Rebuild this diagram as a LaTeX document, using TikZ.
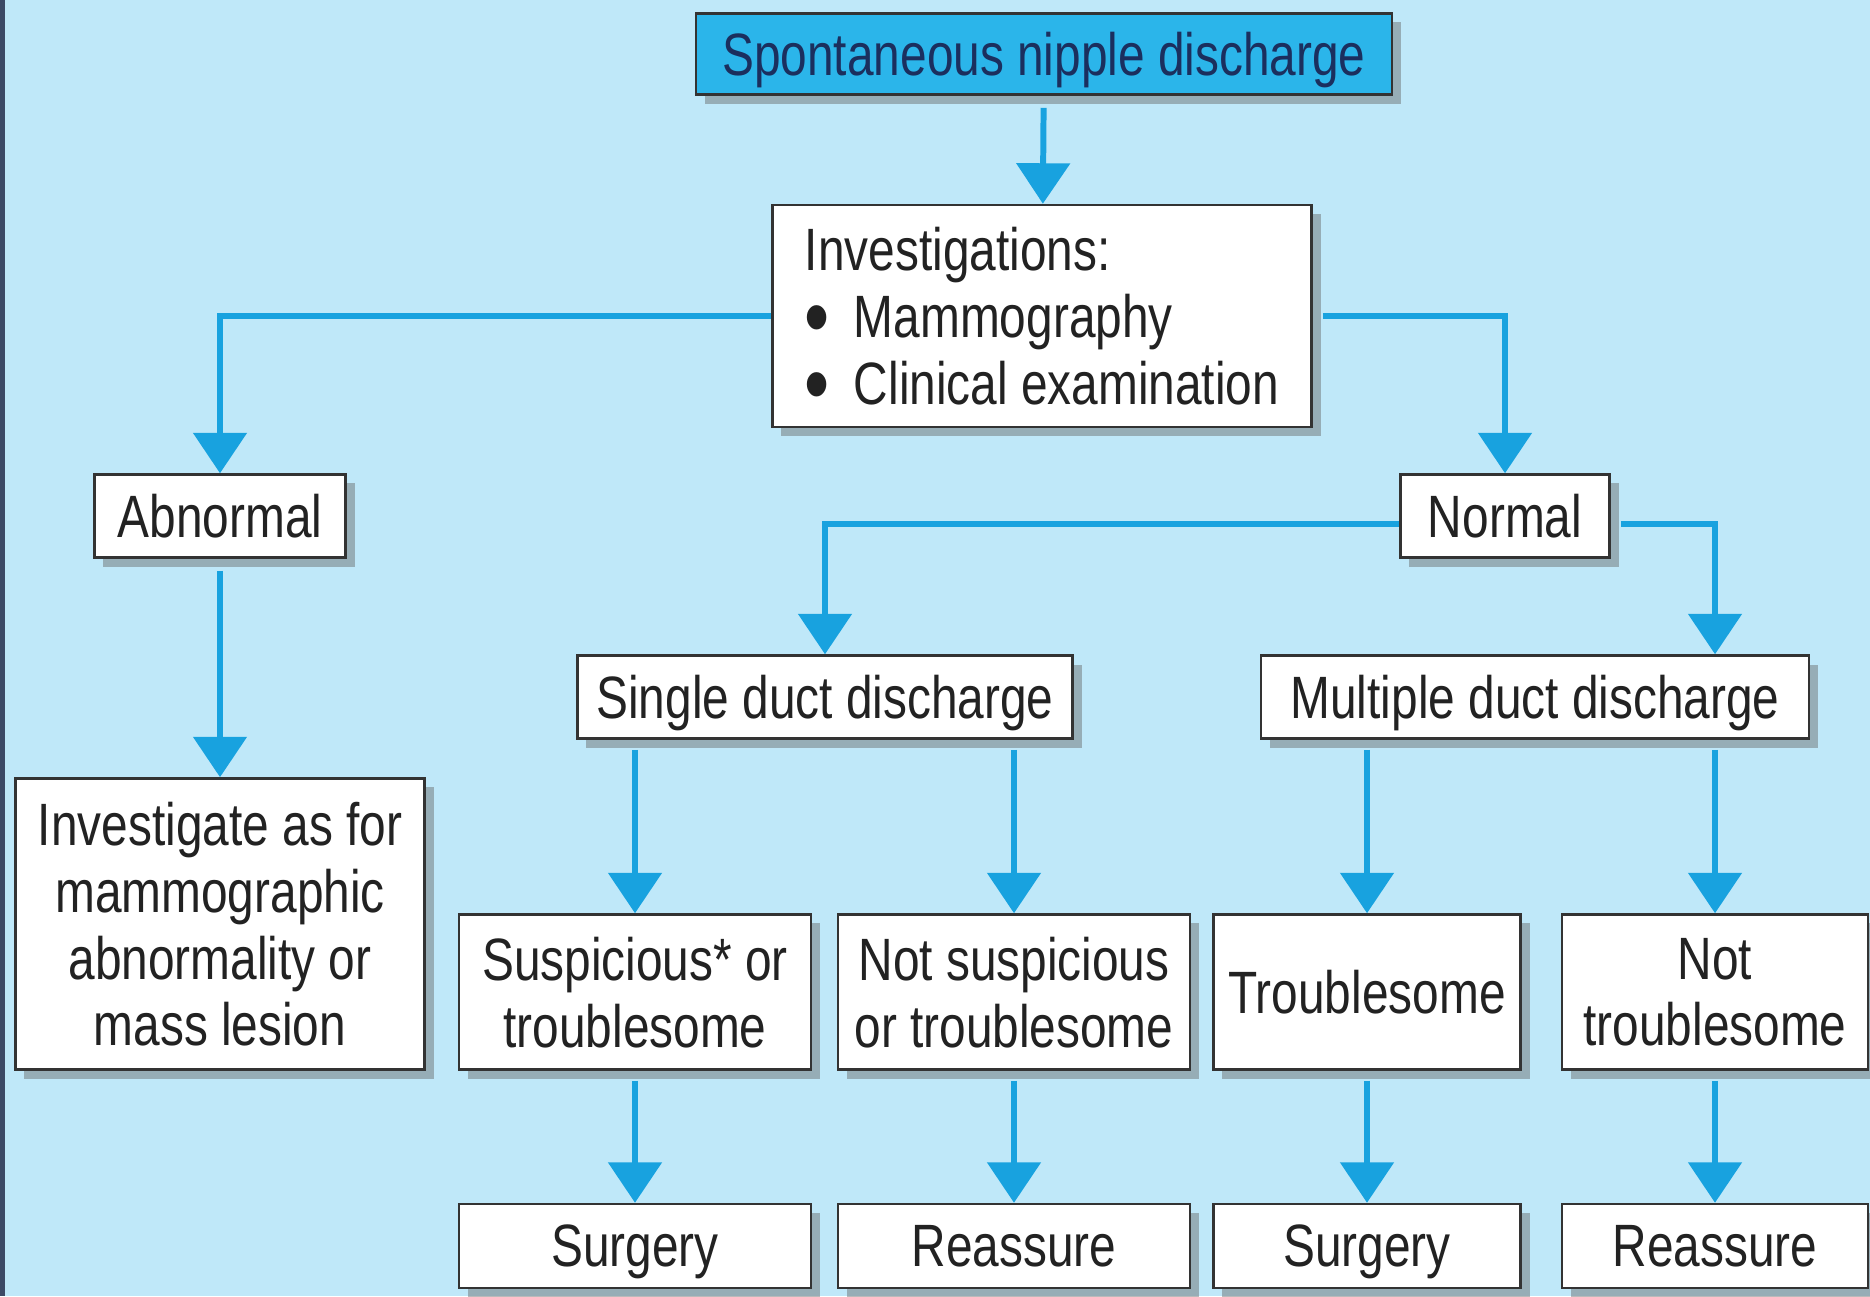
\documentclass[tikz,border=0pt]{standalone}
\usepackage{fontspec}
\setmainfont[FakeStretch=0.8]{Liberation Sans}
\usetikzlibrary{arrows.meta,shadows}

\definecolor{bgblue}{HTML}{BFE8F9}
\definecolor{flowblue}{HTML}{18A2DF}
\definecolor{headblue}{HTML}{2BB5EA}
\definecolor{headtext}{HTML}{1B2F5E}
\definecolor{boxtext}{HTML}{222222}
\definecolor{edgeline}{HTML}{3C4A66}

\newcommand{\bigbullet}{\raisebox{-0.32ex}[0pt][0pt]{\scalebox{1.5}{\textbullet}}\hspace{0.4em}}

\tikzset{
  box/.style={draw=black!80, line width=0.7pt, fill=white, inner sep=0pt,
    align=center, text=boxtext, font=\fontsize{17}{19}\selectfont,
    execute at begin node=\vphantom{A}, text depth=0pt,
    drop shadow={shadow xshift=0.09cm, shadow yshift=-0.09cm, fill=black!60, opacity=0.45}},
  headbox/.style={box, fill=headblue, text=headtext},
  flow/.style={draw=flowblue, line width=1.7pt, -{Triangle[width=15pt,length=11.5pt]}},
}

\begin{document}
\begin{tikzpicture}[x=0.01cm, y=-0.01cm]
        % Define Variables
        \def\rowA{697}
        \def\rowB{992}
        \def\rowC{1246}

        % Background
        \useasboundingbox (0,0) rectangle (1870,1296);
        \fill[bgblue] (0,0) rectangle (1870,1296);
        \draw[line width=2pt, draw=edgeline] (1,0) -- (1,1296);

        % Top levels
        \node[headbox, minimum width=6.96cm, minimum height=0.81cm] (top) at (1044,54) {Spontaneous nipple discharge};
        \node[box, minimum width=5.39cm, minimum height=2.22cm, align=left] (inv) at (1042,316) {Investigations:\\ \bigbullet Mammography\\ \bigbullet Clinical examination};
        \node[box, minimum width=2.51cm, minimum height=0.83cm] (abn) at (220,516) {Abnormal};
        \node[box, minimum width=2.09cm, minimum height=0.83cm] (normal) at (1505,516) {Normal};
        \node[box, minimum width=4.09cm, minimum height=2.91cm] (invest) at (220,924) {Investigate as for\\ mammographic\\ abnormality or\\ mass lesion};

        % Duct discharge
        \node[box, minimum width=4.95cm, minimum height=0.83cm] (single) at (825,\rowA) {Single duct discharge};
        \node[box, minimum width=5.48cm, minimum height=0.83cm] (multi) at (1535,\rowA) {Multiple duct discharge};

        % Symptoms
        \node[box, minimum width=3.52cm, minimum height=1.55cm] (susp) at (635,\rowB) {Suspicious* or\\ troublesome};
        \node[box, minimum width=3.52cm, minimum height=1.55cm] (notsusp) at (1014,\rowB) {Not suspicious\\ or troublesome};
        \node[box, minimum width=3.07cm, minimum height=1.55cm] (troub) at (1367,\rowB) {Troublesome};
        \node[box, minimum width=3.06cm, minimum height=1.55cm] (nottroub) at (1715,\rowB) {Not\\ troublesome};

        % Outcomes
        \node[box, minimum width=3.52cm, minimum height=0.84cm] (surgA) at (635,\rowC) {Surgery};
        \node[box, minimum width=3.52cm, minimum height=0.84cm] (reasA) at (1014,\rowC) {Reassure};
        \node[box, minimum width=3.07cm, minimum height=0.84cm] (surgB) at (1367,\rowC) {Surgery};
        \node[box, minimum width=3.06cm, minimum height=0.84cm] (reasB) at (1715,\rowC) {Reassure};

        % Connectors
        \draw[flow, shorten <=0.12cm] (top) -- (inv);
        \draw[flow] (inv.west) -| (abn.north);
        \draw[flow, shorten <=0.1cm] (inv.east) -| (normal.north);
        \draw[flow, shorten <=0.12cm] (abn) -- (invest);
        \draw[flow] ([yshift=-0.08cm]normal.west) -| (single.north);
        \draw[flow, shorten <=0.1cm] ([yshift=-0.08cm]normal.east) -| (multi.north -| nottroub.north);
        \foreach \a/\b in {single/susp, single/notsusp, multi/troub, multi/nottroub}
          \draw[flow, shorten <=0.1cm] (\a.south -| \b.north) -- (\b.north);
        \foreach \a/\b in {susp/surgA, notsusp/reasA, troub/surgB, nottroub/reasB}
          \draw[flow, shorten <=0.1cm] (\a) -- (\b);
\end{tikzpicture}
\end{document}
